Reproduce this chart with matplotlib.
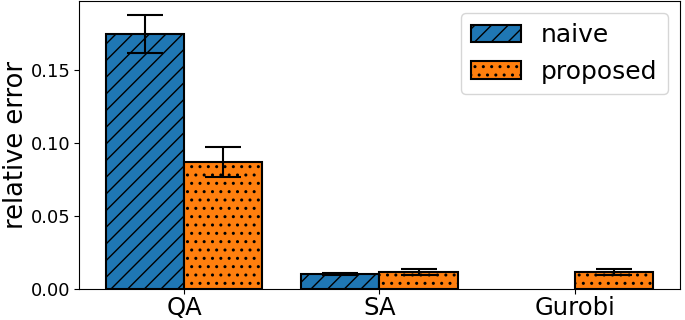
import numpy as np
import matplotlib
matplotlib.use("Agg")
import matplotlib.pyplot as plt

categories = ["QA", "SA", "Gurobi"]
naive = [0.175, 0.0102, np.nan]
naive_err = [0.0133, 0.0007, np.nan]
proposed = [0.087, 0.0116, 0.0116]
proposed_err = [0.0103, 0.0022, 0.0022]

plt.rcParams["font.size"] = 16
plt.rcParams["hatch.linewidth"] = 1.0

fig = plt.figure(figsize=(6.85, 3.2), dpi=100)
ax = fig.add_axes([0.115, 0.097, 0.878, 0.9])

x = np.arange(len(categories))
w = 0.4
ax.bar(x - w / 2, naive, w, yerr=naive_err, capsize=13, hatch="//",
       color="#1f77b4", edgecolor="black", linewidth=1.5, label="naive",
       error_kw=dict(elinewidth=1.5, capthick=1.5))
ax.bar(x + w / 2, proposed, w, yerr=proposed_err, capsize=13, hatch="..",
       color="#ff7f0e", edgecolor="black", linewidth=1.5, label="proposed",
       error_kw=dict(elinewidth=1.5, capthick=1.5))

ax.set_xticks(x)
ax.set_xticklabels(categories)
ax.tick_params(axis="x", labelsize=17.5, pad=1.5)
ax.tick_params(axis="y", labelsize=13, pad=2.5)
ax.set_ylabel("relative error", fontsize=18.5, labelpad=1)
ax.legend(loc="upper right", fontsize=18)

fig.savefig("out.png", dpi=100)
